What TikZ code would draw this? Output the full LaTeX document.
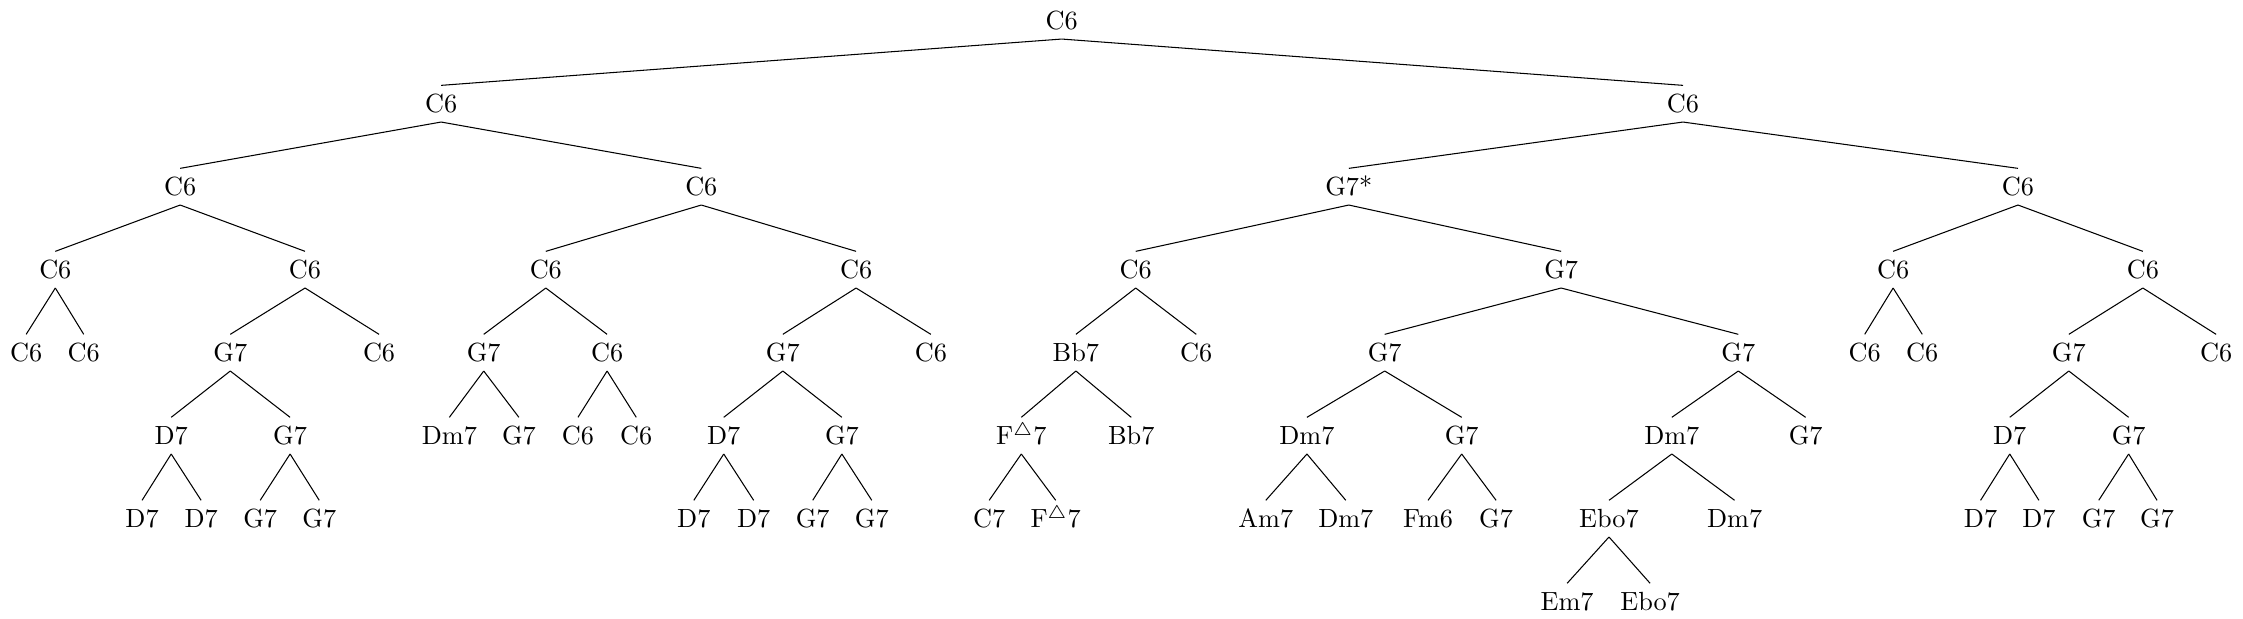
\documentclass[tikz,border=0pt]{standalone}
\usepackage{amsmath,amssymb}
\usepackage{tikz}
\usetikzlibrary{calc,positioning}

\begin{document}
\begin{tikzpicture}[
  chord/.style={inner sep=3.33pt, text height=1.6ex, text depth=0pt,
                font=\normalsize},
  branch/.style={black, line width=0.4pt}
]
\useasboundingbox (0,0.277) rectangle (30,-8.001);

% Level 0 (root)
\node[chord] (r) at (14.20,0) {C6};

% Level 1
\node[chord] (r1) at (5.90,-1.11)  {C6};
\node[chord] (r2) at (22.51,-1.11) {C6};

% Level 2
\node[chord] (r11) at (2.41,-2.22)  {C6};
\node[chord] (r12) at (9.38,-2.22)  {C6};
\node[chord] (r21) at (18.04,-2.22) {G7*};
\node[chord] (r22) at (26.99,-2.22) {C6};

% Level 3
\node[chord] (r111) at (0.74,-3.33)  {C6};
\node[chord] (r112) at (4.08,-3.33)  {C6};
\node[chord] (r121) at (7.30,-3.33)  {C6};
\node[chord] (r122) at (11.45,-3.33) {C6};
\node[chord] (r211) at (15.19,-3.33) {C6};
\node[chord] (r212) at (20.88,-3.33) {G7};
\node[chord] (r221) at (25.32,-3.33) {C6};
\node[chord] (r222) at (28.66,-3.33) {C6};

% Level 4
\node[chord] (r1111) at (0.35,-4.44)  {C6};
\node[chord] (r1112) at (1.12,-4.44)  {C6};
\node[chord] (r1121) at (3.08,-4.44)  {G7};
\node[chord] (r1122) at (5.07,-4.44)  {C6};
\node[chord] (r1211) at (6.47,-4.44)  {G7};
\node[chord] (r1212) at (8.12,-4.44)  {C6};
\node[chord] (r1221) at (10.47,-4.44) {G7};
\node[chord] (r1222) at (12.45,-4.44) {C6};
\node[chord] (r2111) at (14.39,-4.44) {Bb7};
\node[chord] (r2112) at (16.00,-4.44) {C6};
\node[chord] (r2121) at (18.52,-4.44) {G7};
\node[chord] (r2122) at (23.25,-4.44) {G7};
\node[chord] (r2211) at (24.94,-4.44) {C6};
\node[chord] (r2212) at (25.71,-4.44) {C6};
\node[chord] (r2221) at (27.67,-4.44) {G7};
\node[chord] (r2222) at (29.64,-4.44) {C6};

% Level 5
\node[chord] (r11211) at (2.29,-5.55)  {D7};
\node[chord] (r11212) at (3.88,-5.55)  {G7};
\node[chord] (r12111) at (6.01,-5.55)  {Dm7};
\node[chord] (r12112) at (6.94,-5.55)  {G7};
\node[chord] (r12121) at (7.73,-5.55)  {C6};
\node[chord] (r12122) at (8.51,-5.55)  {C6};
\node[chord] (r12211) at (9.68,-5.55)  {D7};
\node[chord] (r12212) at (11.26,-5.55) {G7};
\node[chord] (r21111) at (13.66,-5.55) {F$^\triangle$7};
\node[chord] (r21112) at (15.13,-5.55) {Bb7};
\node[chord] (r21211) at (17.48,-5.55) {Dm7};
\node[chord] (r21212) at (19.55,-5.55) {G7};
\node[chord] (r21221) at (22.36,-5.55) {Dm7};
\node[chord] (r21222) at (24.15,-5.55) {G7};
\node[chord] (r22211) at (26.88,-5.55) {D7};
\node[chord] (r22212) at (28.47,-5.55) {G7};

% Level 6
\node[chord] (r112111) at (1.90,-6.66)  {D7};
\node[chord] (r112112) at (2.69,-6.66)  {D7};
\node[chord] (r112121) at (3.48,-6.66)  {G7};
\node[chord] (r112122) at (4.27,-6.66)  {G7};
\node[chord] (r122111) at (9.28,-6.66)  {D7};
\node[chord] (r122112) at (10.08,-6.66) {D7};
\node[chord] (r122121) at (10.87,-6.66) {G7};
\node[chord] (r122122) at (11.66,-6.66) {G7};
\node[chord] (r211111) at (13.23,-6.66) {C7};
\node[chord] (r211112) at (14.12,-6.66) {F$^\triangle$7};
\node[chord] (r212111) at (16.93,-6.66) {Am7};
\node[chord] (r212112) at (18.00,-6.66) {Dm7};
\node[chord] (r212121) at (19.10,-6.66) {Fm6};
\node[chord] (r212122) at (20.01,-6.66) {G7};
\node[chord] (r212211) at (21.52,-6.66) {Ebo7};
\node[chord] (r212212) at (23.20,-6.66) {Dm7};
\node[chord] (r222111) at (26.49,-6.66) {D7};
\node[chord] (r222112) at (27.27,-6.66) {D7};
\node[chord] (r222121) at (28.07,-6.66) {G7};
\node[chord] (r222122) at (28.85,-6.66) {G7};

% Level 7
\node[chord] (r2122111) at (20.96,-7.77) {Em7};
\node[chord] (r2122112) at (22.07,-7.77) {Ebo7};

% Branches: every inner node has a left (1) and a right (2) child
\foreach \p in {r, r1, r2, r11, r12, r21, r22,
                r111, r112, r121, r122, r211, r212, r221, r222,
                r1121, r1211, r1212, r1221, r2111, r2121, r2122, r2221,
                r11211, r11212, r12211, r12212, r21111, r21211, r21212,
                r21221, r22211, r22212, r212211}{
  \draw[branch] (\p.south) -- (\p1.north);
  \draw[branch] (\p.south) -- (\p2.north);
}

\end{tikzpicture}
\end{document}
